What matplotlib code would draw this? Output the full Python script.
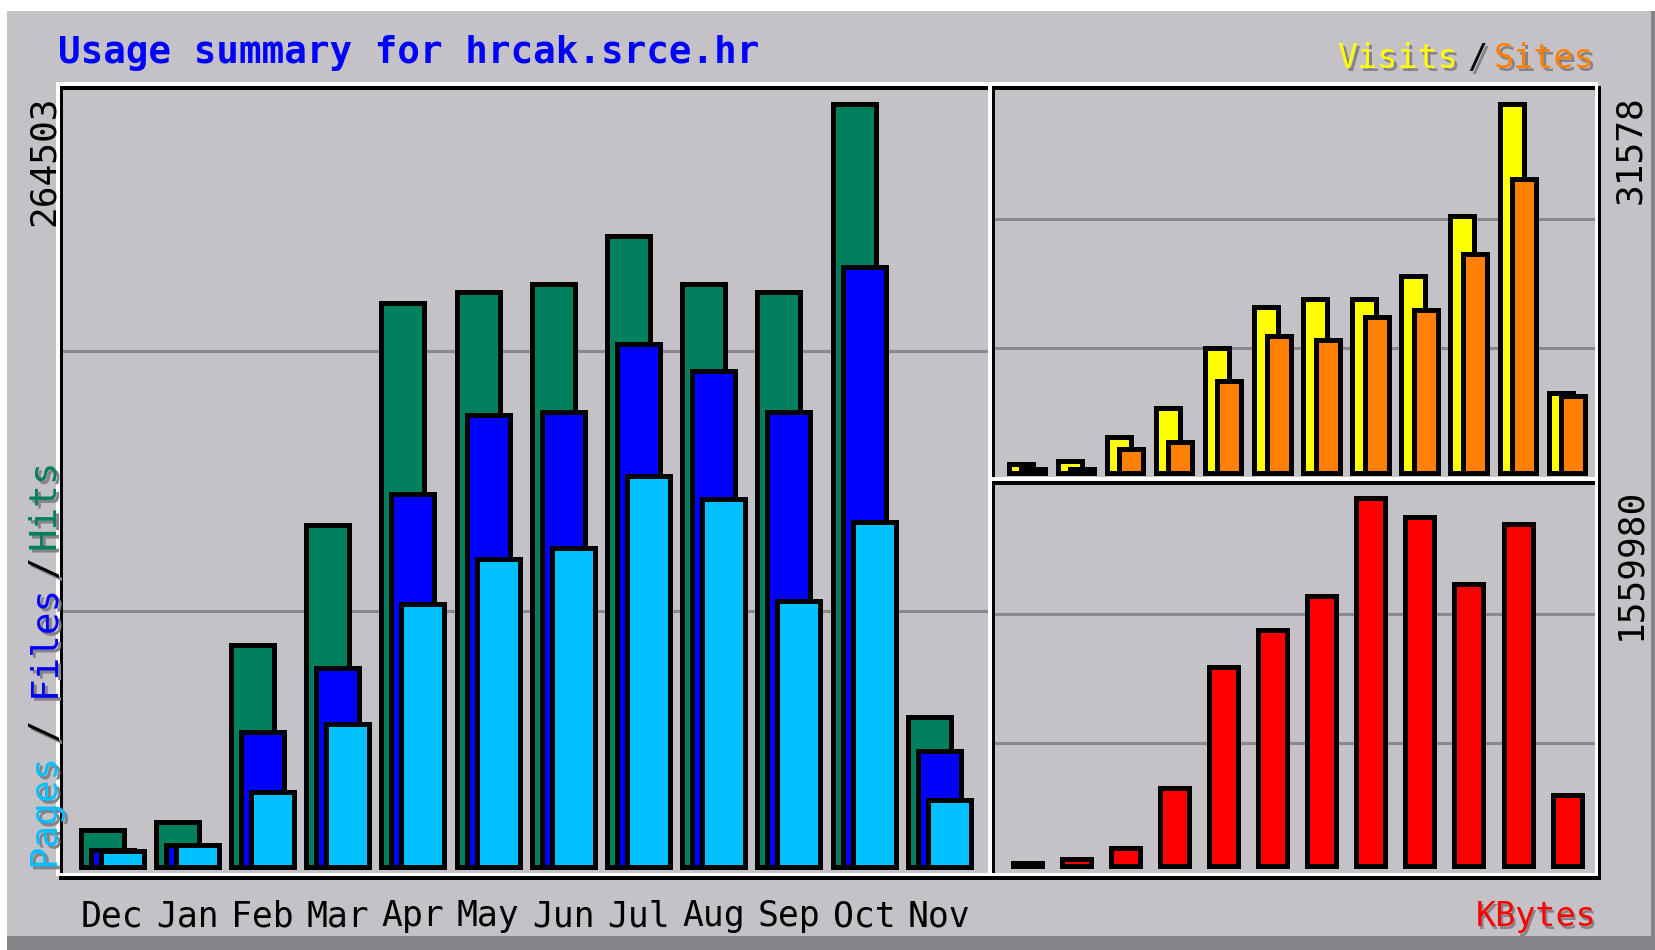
import matplotlib
matplotlib.use('Agg')
import matplotlib.pyplot as plt
from matplotlib.patches import Rectangle
import matplotlib.transforms as mtransforms
import numpy as np

# ---------------- data ----------------
months = ['Dec', 'Jan', 'Feb', 'Mar', 'Apr', 'May', 'Jun', 'Jul', 'Aug', 'Sep', 'Oct', 'Nov']
hits = [12600, 15600, 76700, 118400, 195300, 199300, 201900, 218800, 201900, 199300, 264503, 51800]
files = [5600, 7500, 46700, 69000, 129100, 156500, 157600, 181100, 171900, 157600, 208100, 40100]
pages = [5500, 7500, 25800, 49300, 91000, 106700, 110400, 135300, 127600, 92100, 119500, 22900]
visits = [750, 1020, 3010, 5530, 10690, 14220, 14850, 14850, 16840, 21990, 31578, 6800]
sites = [340, 340, 2010, 2650, 7800, 11690, 11330, 13310, 13950, 18740, 25160, 6530]
kbytes = [12700, 31400, 76300, 330600, 843600, 1000400, 1144500, 1559980, 1479400, 1195400, 1449700, 302700]

title = 'Usage summary for hrcak.srce.hr'

# ---------------- style ----------------
W, H = 1655, 950
GRAY = '#C4C2C6'
DKGRAY = '#858387'
GRID = '#8A888C'
SHADOW = '#858387'
C_HITS = '#00805C'
C_FILES = '#0000FF'
C_PAGES = '#00C0FF'
C_VISITS = '#FFFF00'
C_SITES = '#FF8000'
C_KB = '#FF0000'
FONT = 'DejaVu Sans Mono'
LW = 2.5

fig = plt.figure(figsize=(W / 100, H / 100), dpi=100)
fig.patch.set_facecolor('white')


def fx(x):
    return x / W


def fy(y):
    return 1 - y / H


def strip(x0, y0, x1, y1, color, z):
    fig.add_artist(Rectangle((fx(x0), fy(y1)), (x1 - x0) / W, (y1 - y0) / H,
                             transform=fig.transFigure, facecolor=color,
                             edgecolor='none', zorder=z, antialiased=False))


def frame(x0, y0, x1, y1, color, t, z):
    strip(x0, y0, x1, y0 + t, color, z)
    strip(x0, y1 - t, x1, y1, color, z)
    strip(x0, y0, x0 + t, y1, color, z)
    strip(x1 - t, y0, x1, y1, color, z)


# background with 3D border
strip(0, 0, W, H, 'white', -20)
strip(7, 11, W, H, GRAY, -19)
strip(7, 936, W, H, DKGRAY, -18)
strip(1651, 11, W, H, DKGRAY, -18)

# panel frames: black (offset) first, white on top
frame(59, 86, 994, 880, 'black', 3.8, 5)
frame(991, 86, 1601, 485, 'black', 3.8, 5)
frame(991, 481, 1601, 880, 'black', 3.8, 5)
frame(56, 82, 991, 876, 'white', 3.5, 6)
frame(988, 82, 1598, 481, 'white', 3.5, 6)
frame(988, 477, 1598, 876, 'white', 3.5, 6)


def panel(inner, unit, bar0, base, peak, vmax):
    x0, y0, x1, y1 = inner
    ax = fig.add_axes([fx(x0), fy(y1), (x1 - x0) / W, (y1 - y0) / H])
    ax.set_facecolor('none')
    for sp in ax.spines.values():
        sp.set_visible(False)
    lo = -(bar0 - x0) / unit
    ax.set_xlim(lo, lo + (x1 - x0) / unit)
    s = vmax / (base - peak)
    ax.set_ylim(-(y1 - base) * s, (base - y0) * s)
    grid_px = [y1 - (y1 - y0) / 3, y1 - 2 * (y1 - y0) / 3]
    ax.set_yticks([(base - g) * s for g in grid_px])
    ax.yaxis.grid(True, color=GRID, lw=2.2)
    ax.set_axisbelow(True)
    ax.tick_params(axis='y', length=0, labelleft=False)
    ax.tick_params(axis='x', length=0)
    return ax


x = np.arange(len(months))
bar_kw = dict(align='edge', edgecolor='black', lw=LW, antialiased=False)

# ---- left panel: hits / files / pages ----
ax1 = panel((63, 90, 988, 872), 75.2, 80.5, 866.5, 103.9, max(hits))
u1 = 75.2
bw1 = 43 / u1
off1 = 10 / u1
ax1.bar(x, hits, width=bw1, color=C_HITS, zorder=2, **bar_kw)
ax1.bar(x + off1, files, width=bw1, color=C_FILES, zorder=3, **bar_kw)
ax1.bar(x + 2 * off1, pages, width=bw1, color=C_PAGES, zorder=4, **bar_kw)
ax1.set_xticks(x + (2 * off1 + bw1) / 2)
ax1.set_xticklabels(months, fontsize=25, family=FONT, color='black')
ax1.tick_params(axis='x', pad=19.5)

# ---- right top: visits / sites ----
ax2 = panel((994, 90, 1595, 477), 49.1, 1008.5, 472.5, 103.9, max(visits))
u2 = 49.1
bw2 = 24 / u2
off2 = 12.5 / u2
ax2.bar(x, visits, width=bw2, color=C_VISITS, zorder=2, **bar_kw)
ax2.bar(x + off2, sites, width=bw2, color=C_SITES, zorder=3, **bar_kw)
ax2.set_xticks([])

# ---- right bottom: kbytes ----
ax3 = panel((994, 485, 1595, 872), 49.1, 1012.5, 866.2, 498.2, max(kbytes))
bw3 = 29 / u2
ax3.bar(x, kbytes, width=bw3, color=C_KB, zorder=2, **bar_kw)
ax3.set_xticks([])

# ---------------- texts ----------------
shadow_tr = mtransforms.offset_copy(fig.transFigure, fig=fig, x=3, y=-3, units='dots')


def label(xp, yp, s, color, size, shadow=False, **kw):
    if shadow:
        fig.text(fx(xp), fy(yp), s, color=SHADOW, fontsize=size, family=FONT,
                 transform=shadow_tr, zorder=7, **kw)
    fig.text(fx(xp), fy(yp), s, color=color, fontsize=size, family=FONT, zorder=8, **kw)


label(58, 63, title, '#0000FF', 27, fontweight='bold', ha='left', va='baseline')

label(1458, 68, 'Visits', C_VISITS, 24, shadow=True, ha='right', va='baseline')
label(1477, 68, '/', 'black', 24, shadow=True, ha='center', va='baseline')
label(1594, 68, 'Sites', C_SITES, 24, shadow=True, ha='right', va='baseline')

label(1596, 926, 'KBytes', C_KB, 24, shadow=True, ha='right', va='baseline')

label(44, 95, f'{max(hits)}', 'black', 26, rotation=90, ha='center', va='top')
label(1630, 95, f'{max(visits)}', 'black', 26, rotation=90, ha='center', va='top')
label(1630, 488, f'{max(kbytes)}', 'black', 26, rotation=90, ha='center', va='top')

label(44, 866, 'Pages', C_PAGES, 27, shadow=True, rotation=90, ha='center', va='bottom')
label(44, 741, '/', 'black', 27, shadow=True, rotation=90, ha='center', va='bottom')
label(44, 697, 'Files', C_FILES, 27, shadow=True, rotation=90, ha='center', va='bottom')
label(44, 578, '/', 'black', 27, shadow=True, rotation=90, ha='center', va='bottom')
label(44, 549, 'Hits', C_HITS, 27, shadow=True, rotation=90, ha='center', va='bottom')

fig.savefig('out.png', dpi=100, facecolor=fig.get_facecolor())
